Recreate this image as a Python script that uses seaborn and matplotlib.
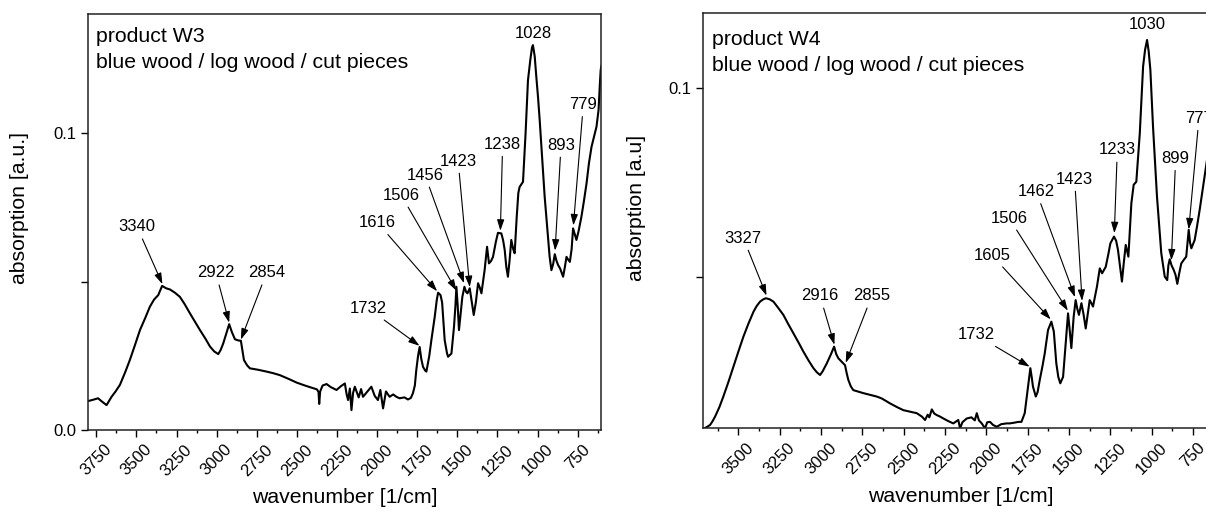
import matplotlib
matplotlib.use("Agg")
import matplotlib.pyplot as plt
import seaborn as sns
from matplotlib.ticker import FixedLocator, FixedFormatter, MultipleLocator

# product W3 spectrum (wavenumber [1/cm], absorption)
w3_wn = [3798, 3770, 3739, 3715, 3686, 3655, 3630, 3603, 3570, 3541, 3510, 3478, 3445, 3416, 3390,
         3364, 3340, 3315, 3291, 3260, 3229, 3200, 3166, 3135, 3104, 3070, 3041, 3015, 2990, 2975,
         2959, 2940, 2922, 2905, 2886, 2865, 2849, 2840, 2830, 2810, 2793, 2740, 2689, 2650, 2606,
         2550, 2502, 2450, 2398, 2375, 2365, 2361, 2355, 2340, 2315, 2290, 2253, 2225, 2201, 2190,
         2181, 2170, 2160, 2150, 2139, 2115, 2100, 2088, 2060, 2036, 2015, 1995, 1980, 1963, 1945,
         1922, 1900, 1880, 1860, 1830, 1808, 1790, 1777, 1765, 1756, 1745, 1735, 1725, 1714, 1700,
         1693, 1675, 1662, 1641, 1628, 1620, 1605, 1595, 1579, 1565, 1558, 1537, 1521, 1512, 1506,
         1498, 1490, 1480, 1469, 1456, 1445, 1437, 1423, 1410, 1398, 1385, 1371, 1360, 1350, 1330,
         1315, 1303, 1290, 1278, 1260, 1247, 1226, 1215, 1205, 1195, 1185, 1175, 1164, 1152, 1143,
         1130, 1120, 1112, 1091, 1075, 1060, 1045, 1035, 1029, 1018, 1008, 997, 987, 972, 956,
         940, 925, 914, 903, 893, 882, 872, 860, 850, 841, 830, 820, 810, 799, 788,
         779, 768, 758, 745, 727, 712, 695, 680, 664, 648, 633, 620, 613, 607, 602]
w3_abs = [0.0098, 0.0102, 0.0107, 0.0096, 0.0084, 0.0112, 0.0130, 0.0152, 0.0195, 0.0236, 0.0285, 0.0337, 0.0378, 0.0416, 0.0440,
          0.0455, 0.0486, 0.0478, 0.0474, 0.0463, 0.0449, 0.0425, 0.0393, 0.0365, 0.0337, 0.0308, 0.0281, 0.0265, 0.0256, 0.0270,
          0.0292, 0.0325, 0.0357, 0.0330, 0.0306, 0.0302, 0.0301, 0.0270, 0.0236, 0.0218, 0.0208, 0.0203, 0.0197, 0.0192, 0.0185,
          0.0172, 0.0160, 0.0150, 0.0141, 0.0137, 0.0128, 0.0088, 0.0130, 0.0150, 0.0155, 0.0145, 0.0135, 0.0148, 0.0157, 0.0120,
          0.0101, 0.0140, 0.0067, 0.0125, 0.0146, 0.0110, 0.0138, 0.0112, 0.0130, 0.0146, 0.0115, 0.0101, 0.0135, 0.0073, 0.0130,
          0.0112, 0.0120, 0.0112, 0.0107, 0.0110, 0.0103, 0.0108, 0.0124, 0.0150, 0.0202, 0.0250, 0.0280, 0.0240, 0.0213, 0.0200,
          0.0197, 0.0250, 0.0303, 0.0382, 0.0440, 0.0463, 0.0455, 0.0430, 0.0303, 0.0260, 0.0247, 0.0258, 0.0348, 0.0420, 0.0483,
          0.0420, 0.0337, 0.0390, 0.0449, 0.0483, 0.0465, 0.0461, 0.0478, 0.0430, 0.0388, 0.0430, 0.0495, 0.0480, 0.0461, 0.0540,
          0.0618, 0.0562, 0.0570, 0.0584, 0.0635, 0.0665, 0.0663, 0.0640, 0.0607, 0.0550, 0.0517, 0.0570, 0.0641, 0.0610, 0.0596,
          0.0720, 0.0800, 0.0820, 0.0837, 0.1000, 0.1180, 0.1250, 0.1290, 0.1298, 0.1260, 0.1191, 0.1120, 0.1045, 0.0920, 0.0787,
          0.0680, 0.0584, 0.0539, 0.0560, 0.0593, 0.0570, 0.0556, 0.0545, 0.0530, 0.0517, 0.0550, 0.0584, 0.0575, 0.0567, 0.0610,
          0.0680, 0.0660, 0.0641, 0.0670, 0.0719, 0.0770, 0.0832, 0.0900, 0.0955, 0.0990, 0.1023, 0.1080, 0.1157, 0.1214, 0.1230]

# product W4 spectrum
w4_wn = [3710, 3701, 3685, 3671, 3656, 3641, 3615, 3591, 3560, 3530, 3500, 3470, 3440, 3409, 3390,
         3369, 3350, 3333, 3310, 3288, 3260, 3228, 3200, 3167, 3135, 3107, 3075, 3046, 3025, 3006,
         2990, 2965, 2940, 2921, 2908, 2895, 2875, 2855, 2845, 2835, 2820, 2805, 2775, 2744, 2700,
         2663, 2633, 2583, 2540, 2502, 2460, 2421, 2390, 2371, 2355, 2345, 2330, 2315, 2300, 2280,
         2260, 2230, 2200, 2180, 2170, 2159, 2145, 2119, 2090, 2070, 2058, 2045, 2028, 2008, 1995,
         1978, 1960, 1937, 1910, 1877, 1859, 1830, 1807, 1788, 1768, 1748, 1734, 1726, 1718, 1701,
         1690, 1677, 1660, 1647, 1627, 1607, 1592, 1577, 1565, 1553, 1536, 1520, 1506, 1496, 1486,
         1472, 1460, 1450, 1440, 1425, 1412, 1399, 1387, 1375, 1365, 1355, 1331, 1314, 1300, 1278,
         1262, 1250, 1228, 1215, 1204, 1192, 1180, 1168, 1157, 1141, 1123, 1109, 1093, 1072, 1052,
         1040, 1028, 1018, 1008, 992, 968, 942, 921, 906, 899, 891, 880, 867, 856, 845,
         833, 821, 805, 791, 776, 768, 760, 740, 725, 710, 695, 680, 665]
w4_abs = [0.0098, 0.0100, 0.0104, 0.0108, 0.0118, 0.0130, 0.0155, 0.0183, 0.0222, 0.0262, 0.0302, 0.0341, 0.0375, 0.0407, 0.0422,
          0.0434, 0.0440, 0.0443, 0.0440, 0.0434, 0.0418, 0.0399, 0.0376, 0.0350, 0.0325, 0.0302, 0.0278, 0.0258, 0.0247, 0.0240,
          0.0250, 0.0271, 0.0295, 0.0315, 0.0295, 0.0284, 0.0275, 0.0266, 0.0245, 0.0227, 0.0210, 0.0200, 0.0196, 0.0192, 0.0187,
          0.0183, 0.0178, 0.0165, 0.0155, 0.0147, 0.0143, 0.0139, 0.0130, 0.0121, 0.0135, 0.0128, 0.0149, 0.0138, 0.0134, 0.0130,
          0.0125, 0.0118, 0.0112, 0.0118, 0.0121, 0.0099, 0.0115, 0.0125, 0.0128, 0.0120, 0.0139, 0.0120, 0.0112, 0.0099, 0.0115,
          0.0116, 0.0108, 0.0103, 0.0110, 0.0112, 0.0112, 0.0114, 0.0116, 0.0116, 0.0139, 0.0209, 0.0258, 0.0235, 0.0209, 0.0183,
          0.0195, 0.0227, 0.0265, 0.0297, 0.0359, 0.0381, 0.0355, 0.0271, 0.0235, 0.0218, 0.0235, 0.0324, 0.0403, 0.0359, 0.0311,
          0.0394, 0.0438, 0.0415, 0.0399, 0.0430, 0.0400, 0.0363, 0.0400, 0.0438, 0.0430, 0.0421, 0.0474, 0.0522, 0.0509, 0.0526,
          0.0560, 0.0588, 0.0606, 0.0595, 0.0571, 0.0530, 0.0487, 0.0540, 0.0584, 0.0553, 0.0694, 0.0743, 0.0751, 0.0879, 0.1056,
          0.1100, 0.1126, 0.1095, 0.1047, 0.0897, 0.0712, 0.0562, 0.0500, 0.0491, 0.0530, 0.0546, 0.0530, 0.0518, 0.0505, 0.0481,
          0.0510, 0.0535, 0.0545, 0.0553, 0.0624, 0.0590, 0.0575, 0.0597, 0.0635, 0.0676, 0.0720, 0.0765, 0.0810]

# peak labels: text position and arrow tip (data coords)
w3_labels = ["3340", "2922", "2854", "1732", "1616", "1506", "1456", "1423", "1238", "893", "779"]
w3_text_wn = [3496, 3005, 2689, 2055, 1997, 1850, 1702, 1495, 1218, 854, 715]
w3_text_abs = [0.0685, 0.0530, 0.0530, 0.0410, 0.0699, 0.0792, 0.0860, 0.0907, 0.0964, 0.0961, 0.1098]
w3_tip_wn = [3338, 2922, 2849, 1736, 1626, 1506, 1458, 1423, 1232, 891, 777]
w3_tip_abs = [0.0492, 0.0362, 0.0305, 0.0284, 0.0468, 0.0470, 0.0495, 0.0482, 0.0672, 0.0605, 0.0690]
w3_top_label = "1028"
w3_top_pos = (1027, 0.1337)

w4_labels = ["3327", "2916", "2855", "1732", "1605", "1506", "1462", "1423", "1233", "899", "777"]
w4_text_wn = [3470, 3006, 2693, 2062, 1967, 1863, 1698, 1466, 1208, 855, 714]
w4_text_abs = [0.0602, 0.0449, 0.0449, 0.0346, 0.0557, 0.0655, 0.0725, 0.0758, 0.0835, 0.0813, 0.0919]
w4_tip_wn = [3330, 2919, 2851, 1738, 1611, 1507, 1464, 1421, 1226, 881, 776]
w4_tip_abs = [0.0450, 0.0320, 0.0272, 0.0262, 0.0387, 0.0410, 0.0446, 0.0436, 0.0615, 0.0543, 0.0625]
w4_top_label = "1030"
w4_top_pos = (1028, 0.1166)

sns.set_style("ticks")
plt.rcParams["font.family"] = ["Liberation Sans", "DejaVu Sans"]
plt.rcParams["text.color"] = "black"
plt.rcParams["axes.labelcolor"] = "black"
plt.rcParams["xtick.color"] = "black"
plt.rcParams["ytick.color"] = "black"

fig = plt.figure(figsize=(12.06, 5.11), dpi=100)
ax1 = fig.add_axes([0.0732, 0.1585, 0.4254, 0.8141])
ax2 = fig.add_axes([0.5832, 0.1618, 0.4266, 0.8133])

arrow = dict(arrowstyle="-|>,head_length=0.55,head_width=0.18", lw=0.8, color="black",
             shrinkA=1, shrinkB=0)


def draw_panel(ax, wn, ab, labels, twn, tab, pwn, pab, top_label, top_pos, title, ylabel,
               xlim, ylim, yticks, yticklabels, title_y, ylabel_xy):
    sns.lineplot(x=wn, y=ab, ax=ax, color="black", lw=1.5, sort=False, estimator=None)
    for lab, tx, ty, px, py in zip(labels, twn, tab, pwn, pab):
        ax.annotate(lab, xy=(px, py), xytext=(tx, ty), ha="center", va="center",
                    fontsize=12, arrowprops=arrow)
    ax.text(top_pos[0], top_pos[1], top_label, ha="center", va="center", fontsize=12)
    ax.text(0.016, title_y[0], title, transform=ax.transAxes, fontsize=15.3, va="baseline")
    ax.text(0.016, title_y[1], "blue wood / log wood / cut pieces", transform=ax.transAxes,
            fontsize=15.3, va="baseline")

    ax.set_xlim(*xlim)
    ax.set_ylim(*ylim)
    ax.xaxis.set_major_locator(MultipleLocator(250))
    ax.xaxis.set_minor_locator(MultipleLocator(125))
    ax.yaxis.set_major_locator(FixedLocator(yticks))
    ax.yaxis.set_major_formatter(FixedFormatter(yticklabels))
    ax.tick_params(axis="both", which="major", direction="out", length=5, width=1,
                   labelsize=12, color="black")
    ax.tick_params(axis="x", which="minor", direction="out", length=2.5, width=1)
    ax.tick_params(axis="x", labelrotation=45)
    for s in ax.spines.values():
        s.set_linewidth(1.1)
        s.set_color("#222222")
    ax.set_xlabel("wavenumber [1/cm]", fontsize=15.3, labelpad=7)
    ax.set_ylabel(ylabel, fontsize=15.3)
    ax.yaxis.set_label_coords(*ylabel_xy)


draw_panel(ax1, w3_wn, w3_abs, w3_labels, w3_text_wn, w3_text_abs, w3_tip_wn, w3_tip_abs,
           w3_top_label, w3_top_pos, "product W3", "absorption [a.u.]",
           (3800, 603), (0.0, 0.1403), [0.0, 0.05, 0.1], ["0.0", "", "0.1"],
           (0.9334, 0.871), (-0.116, 0.534))
draw_panel(ax2, w4_wn, w4_abs, w4_labels, w4_text_wn, w4_text_abs, w4_tip_wn, w4_tip_abs,
           w4_top_label, w4_top_pos, "product W4", "absorption [a.u]",
           (3712, 600), (0.0099, 0.1198), [0.05, 0.1], ["", "0.1"],
           (0.9223, 0.8604), (-0.112, 0.530))

fig.savefig("out.png", dpi=100)
